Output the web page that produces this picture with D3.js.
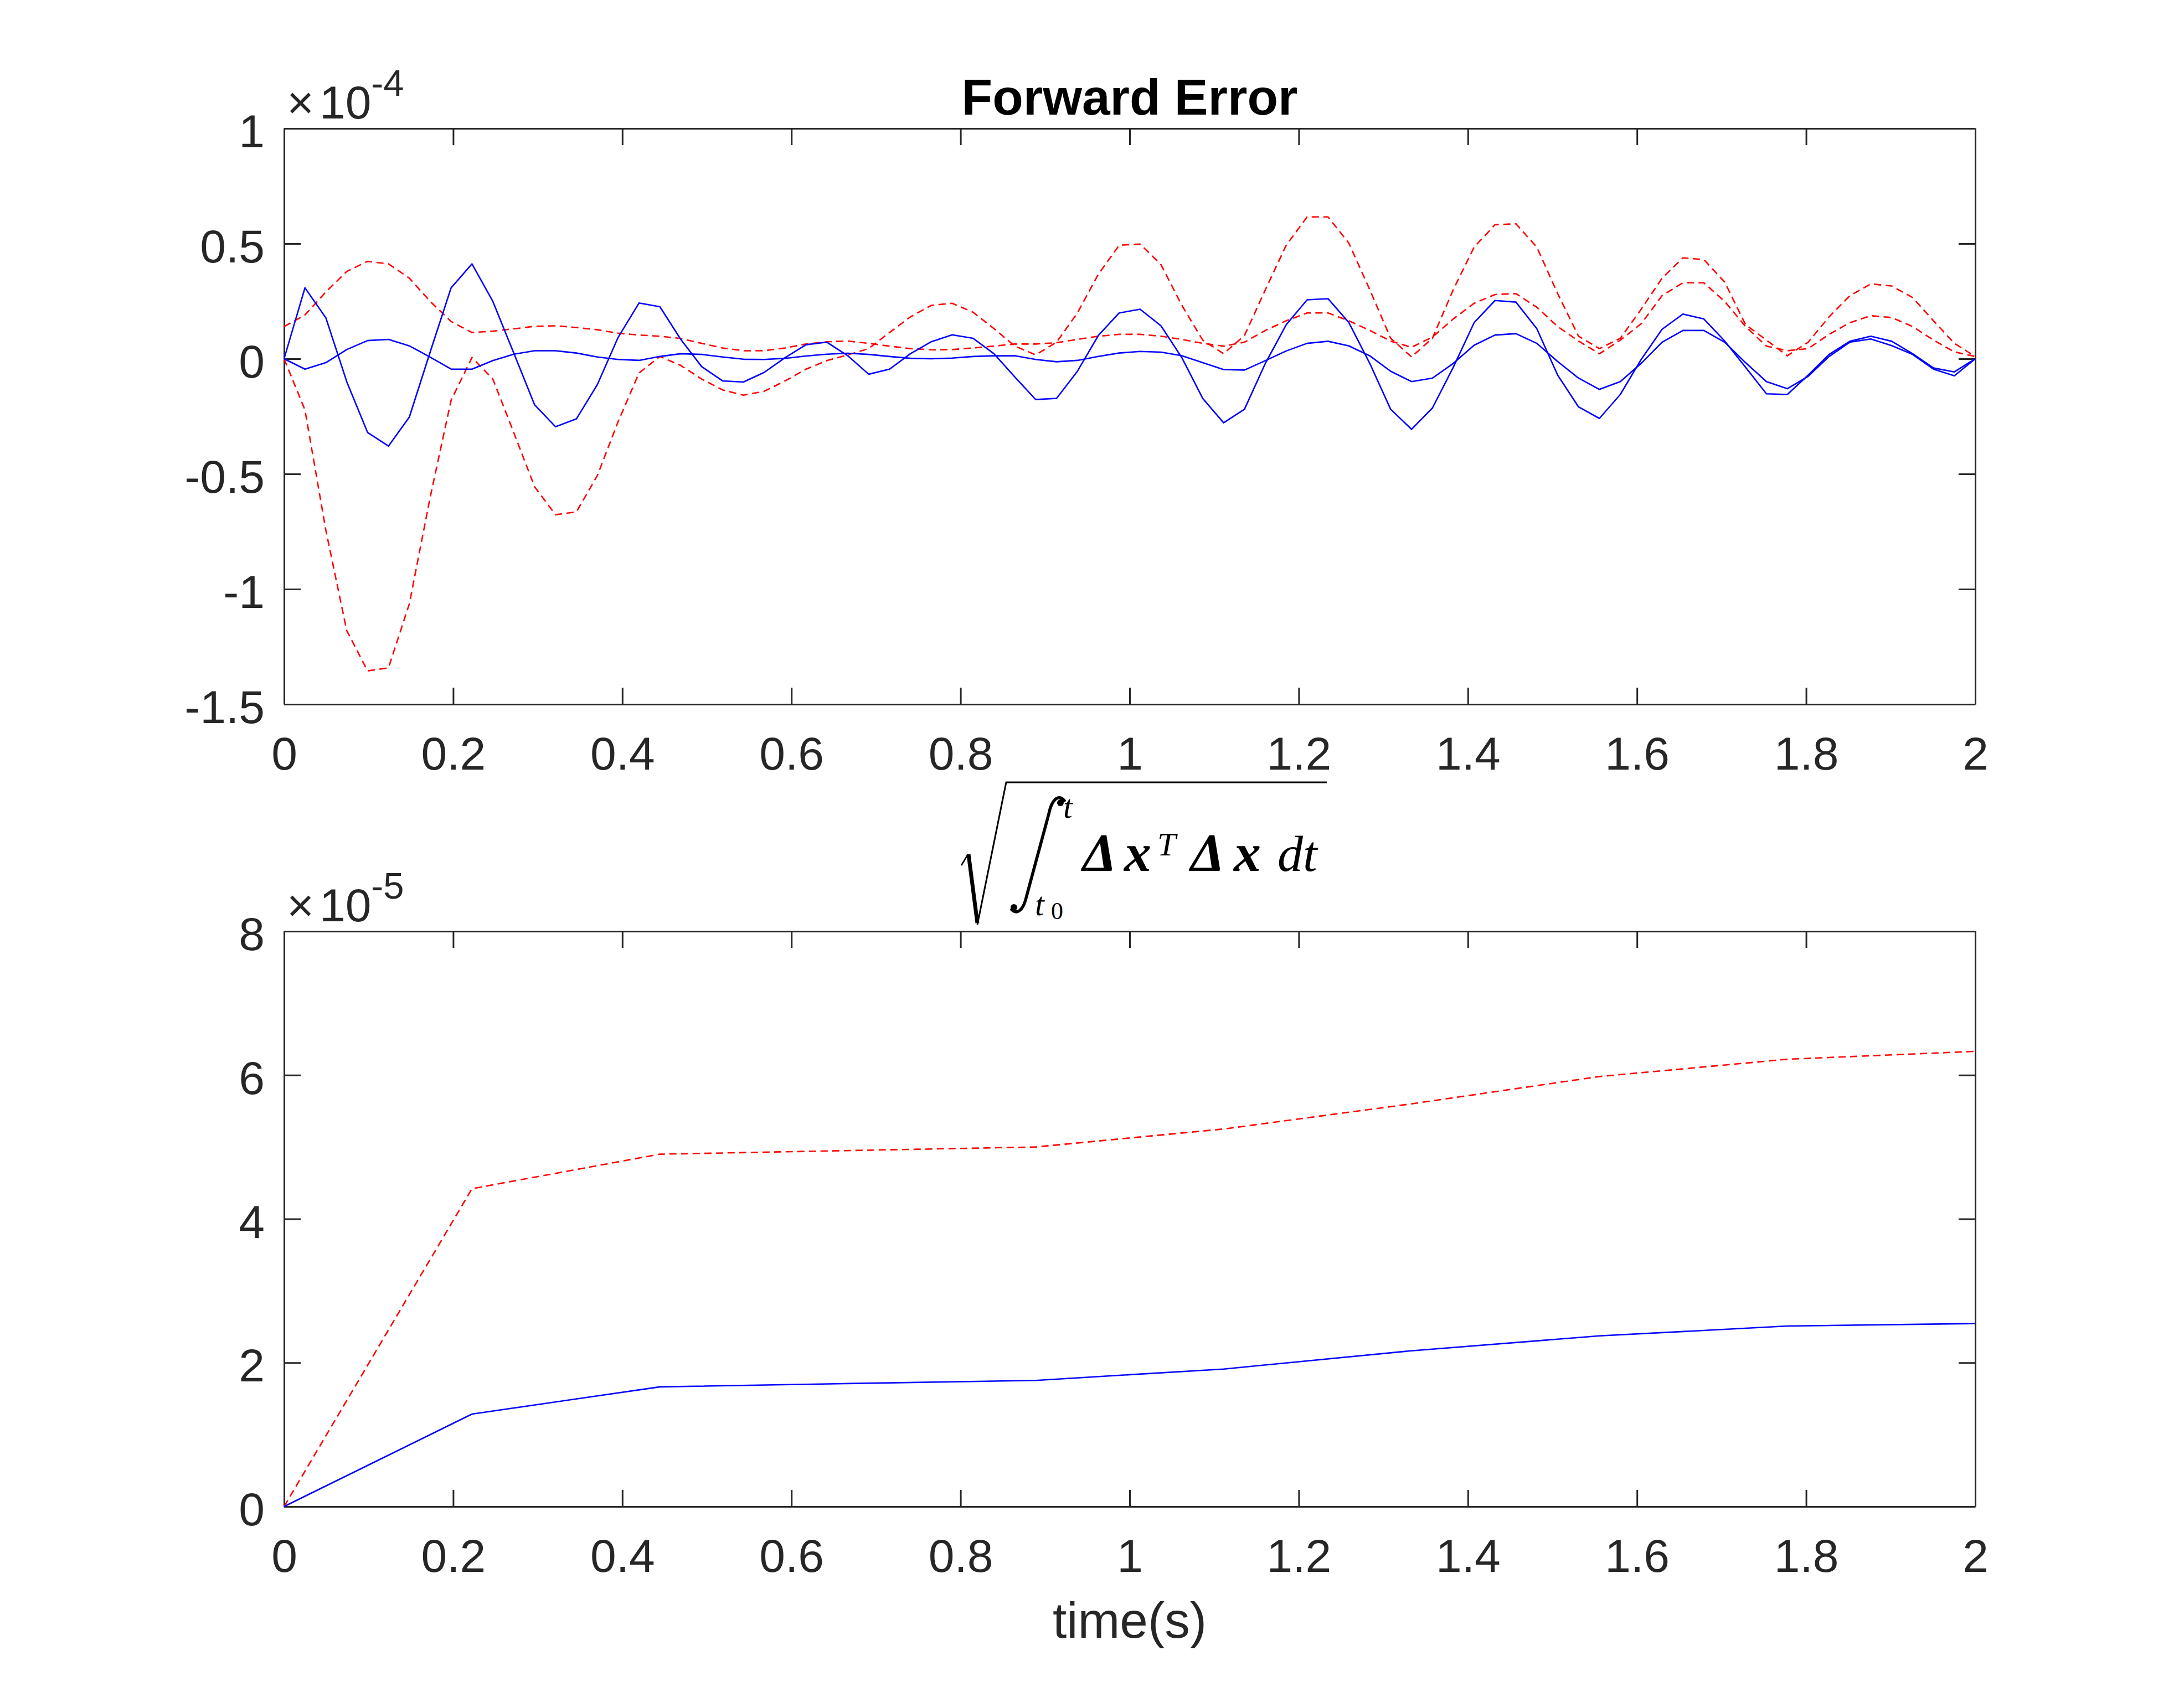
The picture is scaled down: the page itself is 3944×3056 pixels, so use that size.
<!DOCTYPE html>
<html><head><meta charset="utf-8">
<script src="https://cdn.jsdelivr.net/npm/d3@7"></script>
<style>body{margin:0;background:#fff} svg{display:block}</style>
</head><body>
<svg id="c" width="3944" height="3056"></svg>
<script>
// ---- data (top plot values in units of 1e-4, bottom plot in units of 1e-5) ----
const time = d3.range(82).map(i => i * 2 / 81);
const errBlueA = [0,0.308,0.178,-0.099,-0.32,-0.379,-0.253,0.03,0.308,0.412,
  0.249,0.025,-0.2,-0.295,-0.261,-0.113,0.093,0.242,0.226,0.084,
  -0.034,-0.096,-0.101,-0.059,0.005,0.061,0.072,0.013,-0.067,-0.045,
  0.022,0.074,0.104,0.089,0.022,-0.079,-0.177,-0.172,-0.054,0.101,
  0.199,0.215,0.143,0.005,-0.172,-0.278,-0.219,-0.02,0.148,0.256,
  0.261,0.157,-0.02,-0.219,-0.306,-0.214,-0.037,0.157,0.253,0.246,
  0.131,-0.071,-0.209,-0.259,-0.155,-0.003,0.128,0.194,0.173,0.077,
  -0.037,-0.152,-0.155,-0.071,0.019,0.076,0.098,0.076,0.022,-0.04,
  -0.057,0];
const errBlueB = [0,-0.045,-0.017,0.04,0.079,0.084,0.056,0.007,-0.045,-0.045,
  -0.008,0.02,0.035,0.035,0.025,0.008,-0.003,-0.007,0.01,0.022,
  0.019,0.008,-0.002,-0.003,0.002,0.012,0.02,0.024,0.019,0.01,
  0.002,0,0.003,0.01,0.013,0.013,-0.003,-0.013,-0.007,0.01,
  0.025,0.032,0.029,0.013,-0.017,-0.047,-0.049,-0.008,0.034,0.067,
  0.076,0.056,0.013,-0.054,-0.099,-0.084,-0.02,0.059,0.103,0.109,
  0.067,-0.012,-0.084,-0.133,-0.099,-0.02,0.072,0.123,0.123,0.072,
  -0.017,-0.099,-0.13,-0.076,0.01,0.072,0.086,0.057,0.019,-0.045,
  -0.074,0];
const errRedC = [0,-0.222,-0.744,-1.18,-1.355,-1.342,-1.064,-0.6,-0.18,0.005,
  -0.088,-0.32,-0.556,-0.677,-0.665,-0.508,-0.273,-0.062,0.01,-0.029,
  -0.088,-0.135,-0.158,-0.141,-0.096,-0.045,-0.008,0.017,0.044,0.114,
  0.182,0.232,0.241,0.202,0.131,0.055,0.017,0.072,0.199,0.367,
  0.493,0.498,0.409,0.232,0.081,0.022,0.101,0.3,0.493,0.616,
  0.616,0.502,0.3,0.089,0.008,0.089,0.3,0.485,0.582,0.586,
  0.485,0.283,0.098,0.044,0.089,0.215,0.35,0.438,0.431,0.333,
  0.148,0.081,0.013,0.072,0.182,0.274,0.325,0.316,0.266,0.165,
  0.067,0.01];
const errRedD = [0.14,0.19,0.29,0.379,0.423,0.412,0.35,0.249,0.162,0.114,
  0.12,0.13,0.141,0.143,0.136,0.126,0.111,0.103,0.098,0.088,
  0.067,0.047,0.035,0.035,0.047,0.064,0.074,0.077,0.067,0.055,
  0.044,0.039,0.04,0.047,0.055,0.064,0.064,0.07,0.084,0.098,
  0.106,0.106,0.098,0.084,0.067,0.055,0.072,0.123,0.165,0.199,
  0.199,0.165,0.123,0.077,0.05,0.094,0.173,0.241,0.279,0.283,
  0.224,0.14,0.077,0.022,0.081,0.152,0.274,0.33,0.33,0.249,
  0.14,0.055,0.035,0.044,0.106,0.157,0.187,0.179,0.14,0.081,
  0.03,0.01];
const intTime = [0, 2/9, 4/9, 6/9, 8/9, 10/9, 12/9, 14/9, 16/9, 2];
const intBlue = [0, 1.286, 1.664, 1.71, 1.754, 1.912, 2.166, 2.373, 2.51, 2.545];
const intRed  = [0, 4.42, 4.90, 4.95, 5.0, 5.25, 5.6, 5.98, 6.22, 6.33];
const xTicks = [0,0.2,0.4,0.6,0.8,1,1.2,1.4,1.6,1.8,2];
const xTickLabels = ["0","0.2","0.4","0.6","0.8","1","1.2","1.4","1.6","1.8","2"];
const topYTicks = [-1.5,-1,-0.5,0,0.5,1];
const topYTickLabels = ["-1.5","-1","-0.5","0","0.5","1"];
const botYTicks = [0,2,4,6,8];
const botYTickLabels = ["0","2","4","6","8"];

// ---- layout ----
const svg = d3.select("#c");
svg.append("rect").attr("width",3944).attr("height",3056).attr("fill","#fff");
const FONT = "'Liberation Sans', Arial, Helvetica, sans-serif";
const SERIF = "'Liberation Serif', 'DejaVu Serif', serif";
const AX = "#262626";
const BLUE = "#0000ff", RED = "#ff0000";

const xTop = d3.scaleLinear([0,2],[513,3567]);
const yTop = d3.scaleLinear([-1.5,1],[1272,232]);
const xBot = d3.scaleLinear([0,2],[513,3567]);
const yBot = d3.scaleLinear([0,8],[2721,1682]);

function drawAxes(x, y, yTicks, yLabels) {
  const g = svg.append("g");
  const y0 = y.range()[0], y1 = y.range()[1];
  const x0 = x.range()[0], x1 = x.range()[1];
  g.append("g").attr("transform",`translate(0,${y0})`)
    .call(d3.axisBottom(x).tickValues(xTicks).tickFormat((d,i)=>xTickLabels[i]).tickSizeInner(-30).tickSizeOuter(0).tickPadding(58));
  g.append("g").attr("transform",`translate(0,${y1})`)
    .call(d3.axisTop(x).tickValues(xTicks).tickFormat("").tickSizeInner(-30).tickSizeOuter(0));
  const left = g.append("g").attr("transform",`translate(${x0},0)`)
    .call(d3.axisLeft(y).tickValues(yTicks).tickFormat((d,i)=>yLabels[i]).tickSizeInner(-30).tickSizeOuter(0).tickPadding(35));
  g.append("g").attr("transform",`translate(${x1},0)`)
    .call(d3.axisRight(y).tickValues(yTicks).tickFormat("").tickSizeInner(-30).tickSizeOuter(0));
  g.selectAll("path.domain").attr("stroke",AX).attr("stroke-width",3);
  g.selectAll(".tick line").attr("stroke",AX).attr("stroke-width",3);
  g.selectAll("g").attr("font-size",null).attr("font-family",null);
  g.selectAll(".tick text").attr("fill",AX).attr("font-size",84).attr("font-family",FONT);
  left.selectAll(".tick text").attr("dy","0.4em");
  return g;
}

function drawSeries(x, y, xs, ys, color, dashed) {
  const line = d3.line().x((d,i)=>x(xs[i])).y(d=>y(d));
  svg.append("path").datum(ys).attr("d",line).attr("fill","none")
    .attr("stroke",color).attr("stroke-width",2.6).attr("stroke-linejoin","round")
    .attr("stroke-dasharray",dashed?"13,8":null);
}

// top plot
drawAxes(xTop, yTop, topYTicks, topYTickLabels);
drawSeries(xTop, yTop, time, errRedC, RED, true);
drawSeries(xTop, yTop, time, errRedD, RED, true);
drawSeries(xTop, yTop, time, errBlueA, BLUE, false);
drawSeries(xTop, yTop, time, errBlueB, BLUE, false);

// bottom plot
drawAxes(xBot, yBot, botYTicks, botYTickLabels);
drawSeries(xBot, yBot, intTime, intRed, RED, true);
drawSeries(xBot, yBot, intTime, intBlue, BLUE, false);

// exponent labels
function expLabel(yBase, expText) {
  svg.append("text").attr("x",518).attr("y",yBase).attr("font-size",84).attr("font-family",FONT).attr("fill",AX).text("\u00d7");
  svg.append("text").attr("x",577).attr("y",yBase).attr("font-size",84).attr("font-family",FONT).attr("fill",AX).text("10");
  svg.append("text").attr("x",670).attr("y",yBase-41).attr("font-size",67).attr("font-family",FONT).attr("fill",AX).text(expText);
}
expLabel(214, "-4");
expLabel(1664, "-5");

// titles
svg.append("text").attr("x",2040).attr("y",207).attr("text-anchor","middle")
  .attr("font-size",91).attr("font-weight","bold").attr("font-family",FONT).attr("fill","#000").text("Forward Error");
svg.append("text").attr("x",2040).attr("y",2958).attr("text-anchor","middle")
  .attr("font-size",91).attr("font-family",FONT).attr("fill",AX).text("time(s)");

// formula title for bottom plot
const f = svg.append("g").attr("fill","#000");
f.append("path").attr("d","M1736,1563 L1748,1543").attr("stroke","#000").attr("stroke-width",2.5).attr("fill","none");
f.append("path").attr("d","M1749,1543 L1765,1667").attr("stroke","#000").attr("stroke-width",7).attr("fill","none");
f.append("path").attr("d","M1765,1670 L1817,1413 L2396,1413").attr("stroke","#000").attr("stroke-width",3).attr("fill","none");
f.append("path").attr("d","M1922,1446 C1911,1433 1899,1445 1894,1470 L1854,1618 C1848,1645 1837,1652 1827,1643")
  .attr("stroke","#000").attr("stroke-width",5.5).attr("fill","none").attr("stroke-linecap","round");
f.append("circle").attr("cx",1915).attr("cy",1450).attr("r",6);
f.append("circle").attr("cx",1831).attr("cy",1639).attr("r",6);
function ft(x,y,size,txt,opts={}) {
  f.append("text").attr("x",x).attr("y",y).attr("font-size",size).attr("font-family",SERIF)
   .attr("font-style",opts.upright?"normal":"italic").attr("font-weight",opts.bold?"bold":"normal").text(txt);
}
ft(1920,1477,60,"t");
ft(1869,1653,60,"t");
ft(1898,1660,44,"0",{upright:true});
ft(1955,1573,98,"\u0394",{bold:true});
ft(2030,1573,98,"x",{bold:true});
ft(2090,1545,60,"T");
ft(2150,1573,98,"\u0394",{bold:true});
ft(2228,1573,98,"x",{bold:true});
ft(2307,1573,92,"dt");
</script>
</body></html>
